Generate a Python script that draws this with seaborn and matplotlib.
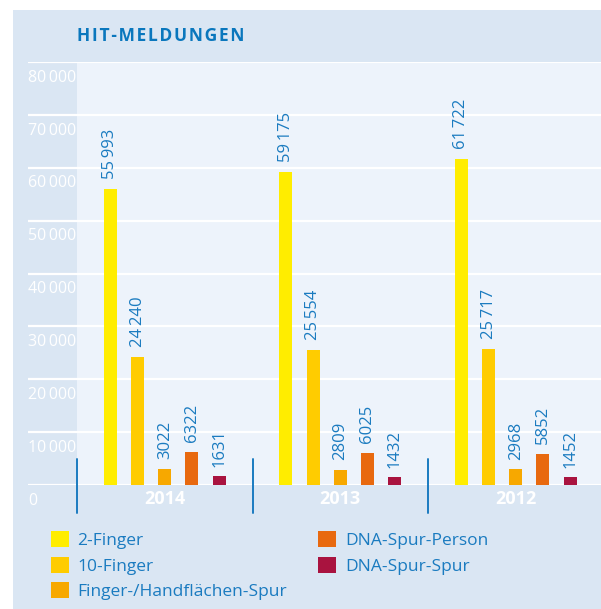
import matplotlib
matplotlib.use("Agg")
import matplotlib.pyplot as plt
from matplotlib.patches import Rectangle
import seaborn as sns
import pandas as pd

# data
jahre = ["2014", "2013", "2012"]
arten = ["2-Finger", "10-Finger", "Finger-/Handflächen-Spur", "DNA-Spur-Person", "DNA-Spur-Spur"]
werte_2014 = [55993, 24240, 3022, 6322, 1631]
werte_2013 = [59175, 25554, 2809, 6025, 1432]
werte_2012 = [61722, 25717, 2968, 5852, 1452]
y_ticks = [0, 10000, 20000, 30000, 40000, 50000, 60000, 70000, 80000]

farben = ["#ffed00", "#ffcc00", "#f7a800", "#e8690f", "#a9133f"]
blau = "#1a7bc0"
panel = "#dae6f3"
hell = "#edf3fb"

rows = []
for jahr, werte in zip(jahre, [werte_2014, werte_2013, werte_2012]):
    for art, w in zip(arten, werte):
        rows.append({"Jahr": jahr, "Art": art, "Anzahl": w})
df = pd.DataFrame(rows)

sns.set_style("white")
plt.rcParams["font.family"] = ["Open Sans", "DejaVu Sans"]

W, H = 601, 609
fig = plt.figure(figsize=(W / 100, H / 100), dpi=100)
fig.patch.set_facecolor("white")
fig.add_artist(Rectangle((13 / W, 0), 1, (H - 10) / H, transform=fig.transFigure,
                         facecolor=panel, edgecolor="none", zorder=0))

ax = fig.add_axes([28 / W, 124 / H, 573 / W, 423 / H])
ax.set_facecolor("none")
px_cat = 175.5
x_left = -0.5 - 49 / px_cat
x_right = -0.5 + 524 / px_cat
ax.axvspan(-0.5, x_right, color=hell, zorder=0, lw=0)

sns.barplot(data=df, x="Jahr", y="Anzahl", hue="Art", order=jahre, hue_order=arten,
            palette=farben, saturation=1, width=0.775, gap=0.52, errorbar=None,
            linewidth=0, ax=ax)

ax.set_xlim(x_left, x_right)
ax.set_ylim(0, 80000)
ax.set_yticks(y_ticks)
ax.set_yticklabels([])
ax.tick_params(axis="y", length=0)
ax.yaxis.grid(True, color="white", linewidth=1.6)
ax.set_axisbelow(True)
for s in ax.spines.values():
    s.set_visible(False)
ax.set_xlabel("")
ax.set_ylabel("")
ax.set_xticks(range(len(jahre)))
ax.set_xticklabels(jahre, color="white", fontweight="bold", fontsize=13)
ax.tick_params(axis="x", length=0, pad=3.5)

def fmt(v):
    s = f"{v:,}"
    return s.replace(",", "\u2009") if v >= 10000 else s.replace(",", "")

for v in y_ticks:
    ax.annotate(fmt(v), (0, v), xycoords=("axes fraction", "data"), xytext=(0, -5.5),
                textcoords="offset points", va="top", ha="left", color="white",
                fontsize=11.5)

for cont in ax.containers:
    ax.bar_label(cont, labels=[fmt(int(b.get_height())) for b in cont], rotation=90,
                 padding=7, color=blau, fontsize=12)

for x in [-0.5, 0.5, 1.5]:
    ax.plot([x, x], [4900, -5300], color=blau, linewidth=1.4, clip_on=False, zorder=3)

titel = "\u200a".join("HIT-MELDUNGEN")
fig.text(77 / W, 1 - 36 / H, titel, color="#0a77bd", fontsize=12.5,
         fontweight="bold", va="center", ha="left")

handles, labels = ax.get_legend_handles_labels()
ax.legend_.remove()
fig.legend(handles, labels, ncol=2, loc="upper left", bbox_to_anchor=(51 / W, 1 - 531 / H),
           frameon=False, fontsize=12.5, labelcolor=blau, handlelength=1.03,
           handleheight=1.03, handletextpad=0.5, labelspacing=0.45, columnspacing=1.8,
           borderaxespad=0, borderpad=0)

fig.savefig("out.png", dpi=100)
